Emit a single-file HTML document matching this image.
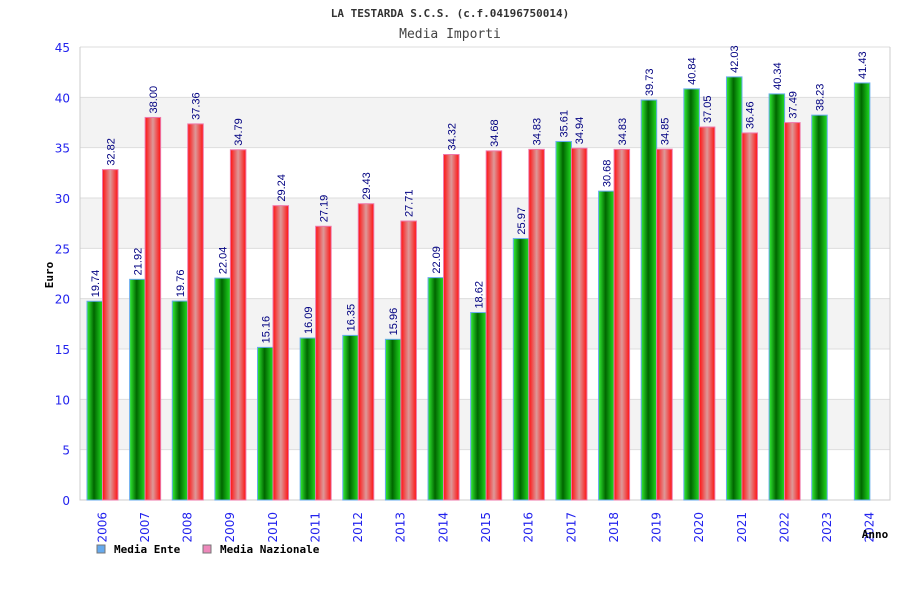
<!DOCTYPE html>
<html><head><meta charset="utf-8"><style>
body{margin:0;background:#fff}
svg text{font-family:"DejaVu Sans Mono","Liberation Mono",monospace}
svg text.sans{font-family:"Liberation Sans",sans-serif}
svg text.dv{font-family:"DejaVu Sans",sans-serif}
</style></head><body>
<svg id="chart" width="900" height="600" xmlns="http://www.w3.org/2000/svg">
<defs>
<linearGradient id="gG" x1="0" x2="1" y1="0" y2="0"><stop offset="0" stop-color="#33ee33"/><stop offset="0.45" stop-color="#006600"/><stop offset="1" stop-color="#22dd22"/></linearGradient>
<linearGradient id="gR" x1="0" x2="1" y1="0" y2="0"><stop offset="0" stop-color="#ff1111"/><stop offset="0.5" stop-color="#dd9999"/><stop offset="1" stop-color="#ff1111"/></linearGradient>
</defs>
<text x="450" y="17" text-anchor="middle" font-size="11" font-weight="bold" fill="#333">LA TESTARDA S.C.S. (c.f.04196750014)</text>
<text x="450" y="38" text-anchor="middle" font-size="13" fill="#444">Media Importi</text>
<g id="grid"></g>
<g id="bars"></g>
<text transform="translate(53,275) rotate(-90)" text-anchor="middle" font-size="11" font-weight="bold" fill="#000">Euro</text>
<text x="875" y="538" text-anchor="middle" font-size="11" font-weight="bold" fill="#000">Anno</text>
<rect x="97" y="545" width="8" height="8" fill="#66aaee" stroke="#777"/>
<text x="114" y="553" font-size="11" font-weight="bold">Media Ente</text>
<rect x="203" y="545" width="8" height="8" fill="#ee88bb" stroke="#777"/>
<text x="220" y="553" font-size="11" font-weight="bold">Media Nazionale</text>
</svg>
<script>
const categories=["2006","2007","2008","2009","2010","2011","2012","2013","2014","2015","2016","2017","2018","2019","2020","2021","2022","2023","2024"];
const enteValues=[19.74,21.92,19.76,22.04,15.16,16.09,16.35,15.96,22.09,18.62,25.97,35.61,30.68,39.73,40.84,42.03,40.34,38.23,41.43];
const nazValues=[32.82,38.00,37.36,34.79,29.24,27.19,29.43,27.71,34.32,34.68,34.83,34.94,34.83,34.85,37.05,36.46,37.49,null,null];
const yTicks=[0,5,10,15,20,25,30,35,40,45];
const NS="http://www.w3.org/2000/svg";
const L=80,R=890,T=47,B=500,yMax=45;
const y=v=>B-(v/yMax)*(B-T);
const step=(R-L)/categories.length;
const xg=i=>L+i*step;
function mk(tag,attrs,parent,txt){const e=document.createElementNS(NS,tag);for(const k in attrs)e.setAttribute(k,attrs[k]);if(txt!==undefined)e.textContent=txt;parent.appendChild(e);return e;}
const grid=document.getElementById('grid'),bars=document.getElementById('bars');
for(let k=0;k<yTicks.length-1;k++){
  if(k%2===1){const r=mk('rect',{x:L,y:y(yTicks[k+1]),width:R-L,height:y(yTicks[k])-y(yTicks[k+1]),fill:'#f3f3f3'},grid);
  
  }
}
yTicks.forEach(t=>{
  const l=mk('line',{x1:L,x2:R,y1:y(t),y2:y(t),stroke:'#dddddd'},grid);
  
  
  const tx=mk('text',{x:70,y:y(t)+5,'text-anchor':'end','font-size':12,fill:'#2222ee','class':'dv'},grid,String(t));
  
  
});
const ax=mk('path',{d:`M${L},${T} V${B} H${R} V${T}`,fill:'none',stroke:'#cccccc'},grid);


const bw=15.5;
function bar(i,v,off,fill,stroke,name){
  if(v===null)return;
  const x=xg(i)+off;
  const r=mk('rect',{x:x,y:y(v),width:bw,height:B-y(v),fill:fill,stroke:stroke,'stroke-width':1},bars);
  
  
  const t=mk('text',{transform:`translate(${x+bw/2+4},${y(v)-4}) rotate(-90)`,'font-size':11,fill:'#000080','class':'sans'},bars,v.toFixed(2));
  
  
}
categories.forEach((c,i)=>{
  bar(i,enteValues[i],7,'url(#gG)','#66aaee','bar-ente-'+c);
  bar(i,nazValues[i],7+bw,'url(#gR)','#ee77aa','bar-nazionale-'+c);
  const t=mk('text',{transform:`translate(${xg(i)+step/2+5},${512}) rotate(-90)`,'text-anchor':'end','font-size':12,fill:'#2222ee','class':'dv'},bars,c);
  
  
});
</script>
</body></html>
